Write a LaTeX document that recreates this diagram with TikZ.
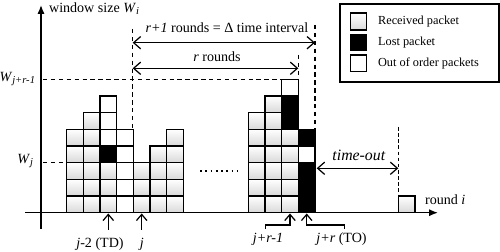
\documentclass[tikz,border=0pt]{standalone}
\usepackage{fontspec}
\setmainfont{Liberation Serif}
\usetikzlibrary{arrows.meta}
\tikzset{
  recv/.style={draw, line width=0.9pt, top color=white, bottom color=gray!30},
  lost/.style={draw, line width=0.9pt, fill=black},
  ooo/.style={draw, line width=0.9pt, fill=white},
  guide/.style={line width=0.6pt, dash pattern=on 2.5pt off 2pt},
  span/.style={{Straight Barb[length=4pt,width=7pt]}-{Straight Barb[length=4pt,width=7pt]}, line width=0.7pt},
  tick/.style={-{Straight Barb[length=3.5pt,width=6pt]}, line width=0.7pt},
  every node/.style={font=\fontsize{8}{9}\selectfont, inner sep=1pt},
  key/.style={anchor=west, font=\fontsize{7}{8}\selectfont},
}
% one column of packets, listed from the bottom up
\newcommand{\stack}[2]{\foreach \s [count=\r from 0] in {#2}
  \draw[\s] (#1,39.3+16.67*\r) rectangle ++(16.67,16.67);}
\begin{document}
\begin{tikzpicture}[x=0.02cm, y=0.02cm]
\useasboundingbox (0,0) rectangle (500,252);

% guide lines
\draw[guide] (43,172.7)--(281.7,172.7);
\draw[guide] (43,89.3)--(66.7,89.3);
\draw[guide] (132.7,223)--(132.7,122.7);
\draw[guide] (298.3,197)--(298.3,172.7);
\draw[guide] (315,227)--(315,122.7);
\draw[line width=0.4pt, dash pattern=on 2pt off 1.5pt] (398.3,125)--(398.3,55.6);

% rounds j-4 ... j+2
\stack{66.7}{recv,recv,recv,recv,recv}
\stack{83.3}{recv,recv,recv,recv,recv,recv}
\stack{100}{recv,recv,recv,lost,ooo,ooo,ooo}
\stack{116.7}{ooo,ooo,ooo,ooo,ooo}
\stack{133.3}{recv,recv,recv}
\stack{150}{recv,recv,recv,recv}
\stack{166.7}{recv,recv,recv,recv,recv}
\draw[line width=1pt, dotted] (200,81)--(238,81);
% rounds j+r-3 ... j+r
\stack{248.3}{recv,recv,recv,recv,recv,recv}
\stack{265}{recv,recv,recv,recv,recv,recv,recv}
\stack{281.7}{recv,recv,recv,recv,recv,lost,lost,ooo}
\stack{298.3}{lost,lost,lost,ooo,lost}
\stack{398.3}{recv}

% axes
\draw[line width=0.8pt, -{Latex[length=5pt,width=4pt]}] (41,23)--(41,247);
\draw[line width=0.8pt, -{Latex[length=5pt,width=4pt]}] (25,39.3)--(438,39.3);
\node[anchor=west] (ylab) at (47,243) {window size \textit{W}\textsubscript{\textit{i}}};
\node[anchor=west] (xlab) at (423,52) {round \textit{i}};
\node[anchor=east] (wjr) at (38,173) {\textit{W}\textsubscript{\textit{j+r-1}}};
\node[anchor=east] (wj) at (36,91) {\textit{W}\textsubscript{\textit{j}}};

% intervals
\coordinate (a1) at (132.7,209.3);
\coordinate (b1) at (315,209.3);
\coordinate (a2) at (132.7,183.7);
\coordinate (b2) at (298.3,183.7);
\coordinate (a3) at (316.7,83.7);
\coordinate (b3) at (398.3,83.7);
\draw[span] (a1)--(b1);
\draw[span] (a2)--(b2);
\draw[span] (a3)--(b3);
\node (lr1) at (227,224) {\textit{r+1} rounds = Δ time interval};
\node (lr) at (217,195) {\textit{r} rounds};
\node[font=\fontsize{9}{10}\selectfont] (lto) at (359,97) {\textit{time-out}};

% marked rounds
\draw[tick] (108.3,22)--(108.3,38.5);
\draw[tick] (141.7,22)--(141.7,38.5);
\draw[tick] (265.7,23)--(265.7,27)--(290,27)--(290,38.5);
\draw[tick] (344.3,23)--(344.3,27)--(306.7,27)--(306.7,38.5);
\node (ltd) at (100,8) {\textit{j}-2 (TD)};
\node (lj) at (141.7,8) {\textit{j}};
\node (ljr1) at (268,13) {\textit{j+r-1}};
\node (ljr) at (341.5,13) {\textit{j+r} (TO)};

% legend
\draw[line width=0.8pt] (340,170) rectangle (499,248);
\draw[recv] (350.7,222) rectangle ++(16,16.7);
\draw[lost] (350.7,202) rectangle ++(16,15.5);
\draw[ooo] (350.7,180.3) rectangle ++(16,16.7);
\node[key] (krecv) at (376,230) {Received packet};
\node[key] (klost) at (376,209.5) {Lost packet};
\node[key] (kooo) at (376,188.7) {Out of order packets};
\end{tikzpicture}
\end{document}
